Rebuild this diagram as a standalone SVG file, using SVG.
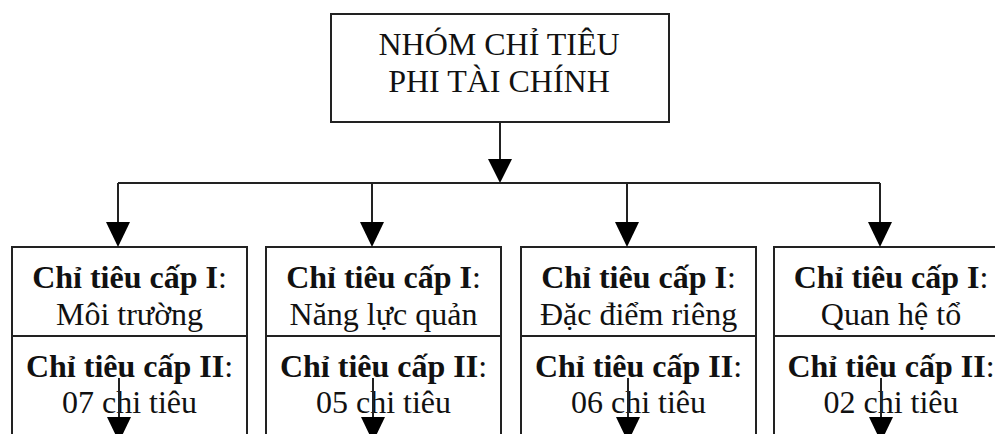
<svg xmlns="http://www.w3.org/2000/svg" width="995" height="434" viewBox="0 0 995 434">
<style>
.box{fill:#fff;stroke:#222;stroke-width:2}
.ln{fill:none;stroke:#222;stroke-width:2}
text{font-family:"Liberation Serif","Times New Roman",serif;font-size:32px;fill:#111;text-anchor:middle}
.b{font-weight:bold}
.n{font-weight:normal}
</style>
<defs>
<marker id="ah" viewBox="0 0 24 25" markerWidth="24" markerHeight="25" refX="12" refY="25" orient="auto-start-reverse" markerUnits="userSpaceOnUse">
<path d="M0 0 L24 0 L12 25 Z" fill="#000" transform="rotate(-90 12 12.5) translate(0 0)"/>
</marker>
</defs>
<g id="root">
<rect class="box" x="331" y="14" width="338" height="108"/>
<text x="499" y="55">NHÓM CHỈ TIÊU</text>
<text x="499" y="92">PHI TÀI CHÍNH</text>
</g>
<g id="n1">
<rect class="box" x="12" y="247" width="235" height="200"/>
<line class="ln" x1="12" y1="336" x2="247" y2="336"/>
<text class="b" x="129.5" y="288">Chỉ tiêu cấp I<tspan class="n">:</tspan></text>
<text x="129.5" y="325">Môi trường</text>
<text class="b" x="129.5" y="377">Chỉ tiêu cấp II<tspan class="n">:</tspan></text>
<text x="129.5" y="413">07 chi tiêu</text>
</g>
<g id="n2">
<rect class="box" x="266" y="247" width="235" height="200"/>
<line class="ln" x1="266" y1="336" x2="501" y2="336"/>
<text class="b" x="383.5" y="288">Chỉ tiêu cấp I<tspan class="n">:</tspan></text>
<text x="383.5" y="325">Năng lực quản</text>
<text class="b" x="383.5" y="377">Chỉ tiêu cấp II<tspan class="n">:</tspan></text>
<text x="383.5" y="413">05 chi tiêu</text>
</g>
<g id="n3">
<rect class="box" x="521" y="247" width="235" height="200"/>
<line class="ln" x1="521" y1="336" x2="756" y2="336"/>
<text class="b" x="638.5" y="288">Chỉ tiêu cấp I<tspan class="n">:</tspan></text>
<text x="638.5" y="325">Đặc điểm riêng</text>
<text class="b" x="638.5" y="377">Chỉ tiêu cấp II<tspan class="n">:</tspan></text>
<text x="638.5" y="413">06 chi tiêu</text>
</g>
<g id="n4">
<rect class="box" x="774" y="247" width="235" height="200"/>
<line class="ln" x1="774" y1="336" x2="1009" y2="336"/>
<text class="b" x="891" y="288">Chỉ tiêu cấp I<tspan class="n">:</tspan></text>
<text x="891" y="325">Quan hệ tổ</text>
<text class="b" x="891" y="377">Chỉ tiêu cấp II<tspan class="n">:</tspan></text>
<text x="891" y="413">02 chi tiêu</text>
</g>
<g id="connectors">
<line class="ln" x1="500" y1="122" x2="500" y2="160"/>
<path d="M488 159 L512 159 L500 183 Z" fill="#000"/>
<line class="ln" x1="118" y1="183" x2="880" y2="183"/>
<line class="ln" x1="118" y1="183" x2="118" y2="224"/>
<path d="M106 222 L130 222 L118 247 Z" fill="#000"/>
<line class="ln" x1="372" y1="183" x2="372" y2="224"/>
<path d="M360 222 L384 222 L372 247 Z" fill="#000"/>
<line class="ln" x1="627" y1="183" x2="627" y2="224"/>
<path d="M615 222 L639 222 L627 247 Z" fill="#000"/>
<line class="ln" x1="880" y1="183" x2="880" y2="224"/>
<path d="M868 222 L892 222 L880 247 Z" fill="#000"/>
<line class="ln" x1="119" y1="378" x2="119" y2="420"/>
<path d="M107 417 L131 417 L119 442 Z" fill="#000"/>
<line class="ln" x1="373" y1="378" x2="373" y2="420"/>
<path d="M361 417 L385 417 L373 442 Z" fill="#000"/>
<line class="ln" x1="628" y1="378" x2="628" y2="420"/>
<path d="M616 417 L640 417 L628 442 Z" fill="#000"/>
<line class="ln" x1="881" y1="378" x2="881" y2="420"/>
<path d="M869 417 L893 417 L881 442 Z" fill="#000"/>
</g>
</svg>
